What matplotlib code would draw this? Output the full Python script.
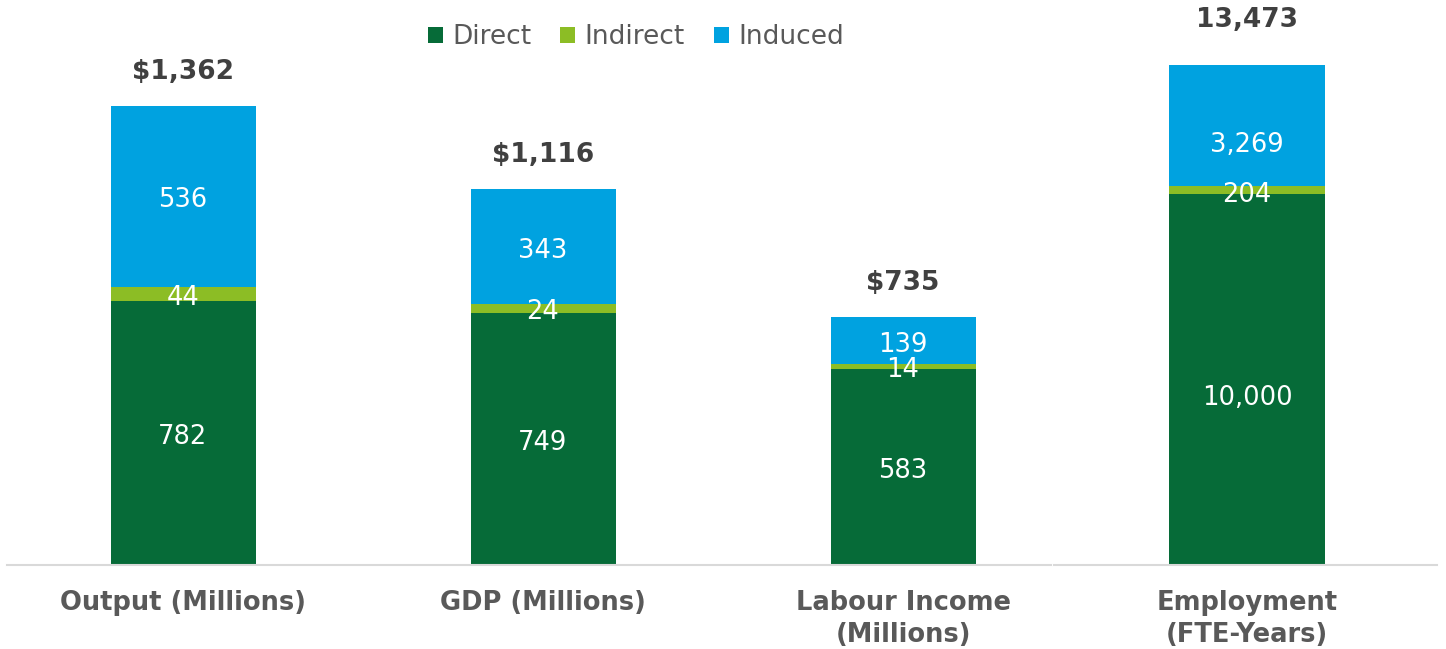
import matplotlib
matplotlib.use("Agg")
import matplotlib.pyplot as plt
from matplotlib.patches import Patch

plt.rcParams['font.family'] = ['DejaVu Sans']

# Economic impact components
money_categories = ["Output (Millions)", "GDP (Millions)", "Labour Income\n(Millions)"]
money_direct = [782, 749, 583]
money_indirect = [44, 24, 14]
money_induced = [536, 343, 139]
money_totals = ["$1,362", "$1,116", "$735"]

jobs_category = ["Employment\n(FTE-Years)"]
jobs_direct = [10000]
jobs_indirect = [204]
jobs_induced = [3269]
jobs_totals = ["13,473"]

series_names = ["Direct", "Indirect", "Induced"]
colors = ["#066B38", "#8CBD25", "#00A2E0"]
label_gray = "#595959"
total_gray = "#404040"
axis_gray = "#D9D9D9"

W, H = 1446, 649
fig = plt.figure(figsize=(W / 100, H / 100), dpi=100)

base_px = 565          # baseline (from top)
top_px = 10            # top of plotting area
bottom = (H - base_px) / H
height = (base_px - top_px) / H

ax1 = fig.add_axes([7 / W, bottom, (1051 - 7) / W, height])
ax2 = fig.add_axes([1054 / W, bottom, (1437 - 1054) / W, height])


def draw(ax, cats, direct, indirect, induced, totals, width, ymax, total_pad,
         label_shift):
    xs = list(range(len(cats)))
    stacks = [direct, indirect, induced]
    bottoms = [0] * len(cats)
    for vals, col, dy in zip(stacks, colors, label_shift):
        ax.bar(xs, vals, width, bottom=bottoms, color=col, linewidth=0)
        for x, b, v in zip(xs, bottoms, vals):
            ax.annotate(f"{v:,}", (x, b + v / 2), xytext=(0, dy),
                        textcoords="offset points", ha="center", va="center",
                        color="white", fontsize=18.5)
        bottoms = [b + v for b, v in zip(bottoms, vals)]
    for x, tot, lab in zip(xs, bottoms, totals):
        ax.annotate(lab, (x, tot), xytext=(0, total_pad), textcoords="offset points",
                    ha="center", va="bottom", fontsize=19, fontweight="bold",
                    color=total_gray)
    ax.set_ylim(0, ymax)
    ax.set_xticks(xs)
    ax.set_xticklabels(cats, fontsize=18.5, fontweight="bold", color=label_gray,
                       linespacing=1.3, va="top")
    ax.tick_params(axis="x", length=0, pad=18)
    ax.set_yticks([])
    for s in ["top", "left", "right"]:
        ax.spines[s].set_visible(False)
    ax.spines["bottom"].set_color(axis_gray)
    ax.spines["bottom"].set_linewidth(1.5)


draw(ax1, money_categories, money_direct, money_indirect, money_induced,
     money_totals, 145 / 360, 555 / 0.3370, 15, (-3, -2.5, -3))
ax1.set_xlim((7 - 183) / 360, (1051 - 183) / 360)

draw(ax2, jobs_category, jobs_direct, jobs_indirect, jobs_induced,
     jobs_totals, 156 / 384, 555 / (500 / 13473), 23, (-13.5, -3.5, -14))
ax2.set_xlim((1054 - 1247) / 384, (1437 - 1247) / 384)

handles = [Patch(facecolor=c, edgecolor="none") for c in colors]
fig.legend(handles, series_names, loc="center", bbox_to_anchor=(636 / W, 1 - 37 / H),
           ncol=3, frameon=False, fontsize=19, labelcolor=label_gray,
           handlelength=0.57, handleheight=0.57, handletextpad=0.35, columnspacing=1.1)

fig.savefig("out.png", dpi=100, facecolor="white")
